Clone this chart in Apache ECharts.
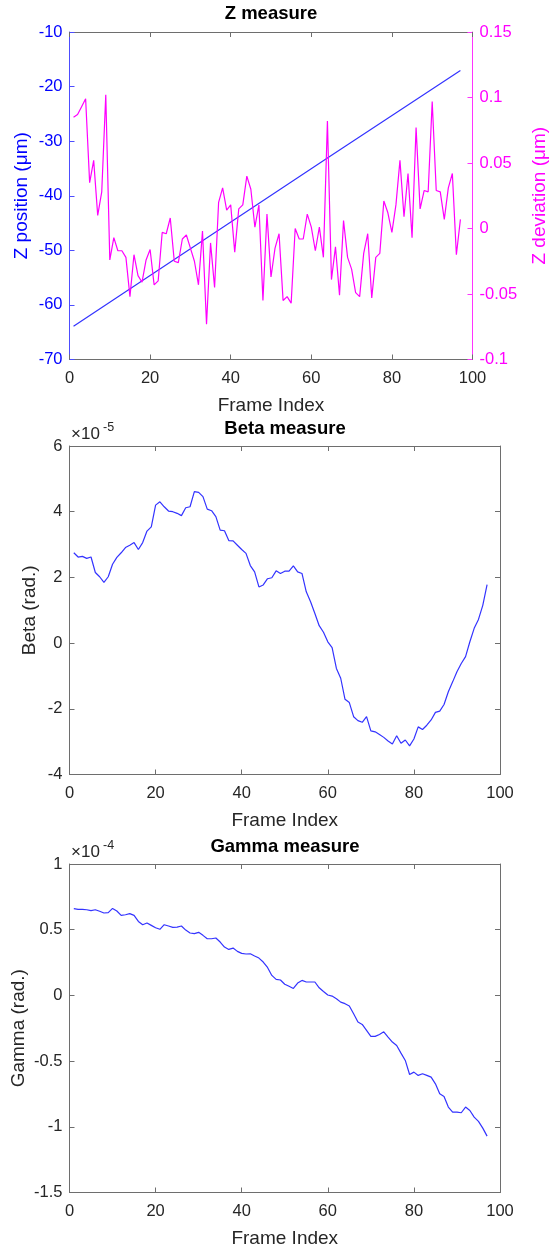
<!DOCTYPE html>
<html>
<head>
<meta charset="utf-8">
<script src="https://cdn.jsdelivr.net/npm/echarts@6/dist/echarts.min.js"></script>
<style>
  html, body { margin: 0; padding: 0; background: #fff; }
  #main { width: 552px; height: 1253px; }
</style>
</head>
<body>
<div id="main"></div>
<script>
// frame index (x) for all three measures
var frames = [1,2,3,4,5,6,7,8,9,10,11,12,13,14,15,16,17,18,19,20,
  21,22,23,24,25,26,27,28,29,30,31,32,33,34,35,36,37,38,39,40,
  41,42,43,44,45,46,47,48,49,50,51,52,53,54,55,56,57,58,59,60,
  61,62,63,64,65,66,67,68,69,70,71,72,73,74,75,76,77,78,79,80,
  81,82,83,84,85,86,87,88,89,90,91,92,93,94,95,96,97];

// Z position (um) - straight ramp, read at ends and middle
var zPosFrames = [1, 64, 97];
var zPos = [-63.9, -33.1, -17.05];

// Z deviation (um)
var zDev = [0.085,0.087,0.093,0.099,0.035,0.052,0.010,0.028,0.102,-0.024,
  -0.007,-0.017,-0.017,-0.022,-0.052,-0.020,-0.036,-0.041,-0.024,-0.016,
  -0.043,-0.040,-0.003,-0.004,0.008,-0.025,-0.026,-0.008,-0.005,-0.015,
  -0.025,-0.043,-0.002,-0.073,-0.011,-0.045,0.020,0.031,0.014,0.018,
  -0.018,0.015,0.018,0.040,0.030,0.001,0.018,-0.055,0.011,-0.037,
  -0.015,-0.004,-0.055,-0.052,-0.057,0.000,-0.008,-0.008,0.011,0.001,
  -0.017,0.001,-0.022,0.082,-0.039,-0.014,-0.051,0.006,-0.022,-0.031,
  -0.049,-0.052,-0.019,-0.004,-0.053,-0.022,-0.019,0.021,0.012,-0.003,
  0.018,0.052,0.009,0.042,-0.007,0.077,0.015,0.029,0.028,0.097,
  0.029,0.028,0.007,0.031,0.042,-0.020,0.007];

// Beta (x 1e-5 rad)
var beta = [2.75,2.62,2.64,2.58,2.62,2.15,2.02,1.85,2.02,2.40,
  2.61,2.75,2.91,2.98,3.06,2.85,3.06,3.41,3.54,4.20,
  4.30,4.15,4.02,4.00,3.95,3.88,4.12,4.15,4.61,4.59,
  4.46,4.08,4.03,3.85,3.44,3.42,3.12,3.11,2.98,2.85,
  2.73,2.36,2.17,1.71,1.77,1.96,1.99,2.20,2.12,2.19,
  2.19,2.35,2.17,2.12,1.56,1.26,0.90,0.53,0.33,0.04,
  -0.14,-0.77,-1.07,-1.71,-1.81,-2.24,-2.36,-2.41,-2.24,-2.67,
  -2.70,-2.78,-2.87,-2.98,-3.07,-2.82,-3.05,-2.95,-3.13,-2.92,
  -2.55,-2.63,-2.50,-2.34,-2.11,-2.07,-1.87,-1.48,-1.18,-0.87,
  -0.62,-0.41,0.04,0.45,0.72,1.15,1.78];

// Gamma (x 1e-4 rad)
var gamma = [0.660,0.655,0.655,0.652,0.645,0.652,0.640,0.627,0.630,0.662,
  0.642,0.609,0.614,0.622,0.609,0.563,0.538,0.551,0.533,0.515,
  0.503,0.538,0.528,0.518,0.520,0.528,0.497,0.475,0.470,0.480,
  0.457,0.431,0.431,0.437,0.406,0.368,0.350,0.360,0.335,0.320,
  0.315,0.317,0.300,0.284,0.254,0.213,0.152,0.122,0.117,0.085,
  0.069,0.053,0.094,0.114,0.102,0.102,0.102,0.058,0.030,0.003,
  -0.005,-0.025,-0.051,-0.063,-0.081,-0.140,-0.203,-0.221,-0.266,-0.312,
  -0.312,-0.297,-0.277,-0.317,-0.355,-0.381,-0.439,-0.495,-0.602,-0.584,
  -0.609,-0.596,-0.609,-0.622,-0.673,-0.749,-0.769,-0.850,-0.888,-0.888,
  -0.893,-0.850,-0.876,-0.926,-0.959,-1.010,-1.071];

var FONT = 'Liberation Sans';
var AX = '#262626';
var BOX = '#6e6e6e';
var BLUE = '#0000ff';
var MAG = '#ff00ff';

function pairs(xs, ys) {
  var out = [];
  for (var i = 0; i < ys.length; i++) out.push([xs[i], ys[i]]);
  return out;
}

function xAx(grid, pos, showLabel) {
  return {
    type: 'value', gridIndex: grid, position: pos,
    min: 0, max: 100, interval: 20,
    name: showLabel ? 'Frame Index' : '',
    nameLocation: 'middle', nameGap: 37, nameMoveOverlap: false,
    nameTextStyle: { fontFamily: FONT, fontSize: 19, color: AX },
    axisLine: { show: true, onZero: false, lineStyle: { color: BOX, width: 1 } },
    axisTick: { show: true, inside: true, length: 5, lineStyle: { color: BOX } },
    axisLabel: { show: showLabel, margin: 10, fontFamily: FONT, fontSize: 16.5, color: AX },
    splitLine: { show: false }
  };
}

function yAx(grid, pos, min, max, step, o) {
  o = o || {};
  return {
    type: 'value', gridIndex: grid, position: pos,
    min: min, max: max, interval: step,
    name: o.name || '', nameLocation: 'middle', nameGap: o.gap || 30,
    nameMoveOverlap: false,
    nameTextStyle: { fontFamily: FONT, fontSize: 19, color: o.textColor || AX },
    axisLine: { show: true, onZero: false, lineStyle: { color: o.lineColor || BOX, width: 1 } },
    axisTick: { show: o.ticks !== false, inside: true, length: 5, lineStyle: { color: o.lineColor || BOX } },
    axisLabel: { show: !!o.labels, margin: 7, fontFamily: FONT, fontSize: 16.5, color: o.textColor || AX },
    splitLine: { show: false }
  };
}

var chart = echarts.init(document.getElementById('main'), null, { renderer: 'canvas' });

var option = {
  animation: false,
  backgroundColor: '#fff',
  grid: [
    { left: 69.5, right: 79.5, top: 32, height: 327.5, outerBoundsMode: 'none', containLabel: false },
    { left: 69.5, right: 52, top: 446, height: 328.5, outerBoundsMode: 'none', containLabel: false },
    { left: 69.5, right: 52, top: 864, height: 328.5, outerBoundsMode: 'none', containLabel: false }
  ],
  xAxis: [
    xAx(0, 'bottom', true), xAx(0, 'top', false),
    xAx(1, 'bottom', true), xAx(1, 'top', false),
    xAx(2, 'bottom', true), xAx(2, 'top', false)
  ],
  yAxis: [
    yAx(0, 'left', -70, -10, 10, { name: 'Z position (μm)', gap: 38.5, labels: true, textColor: BLUE, lineColor: '#4d4dff' }),
    yAx(0, 'right', -0.1, 0.15, 0.05, { name: 'Z deviation (μm)', gap: 58, labels: true, textColor: MAG, lineColor: '#ff33ff' }),
    yAx(1, 'left', -4, 6, 2, { name: 'Beta (rad.)', gap: 30, labels: true }),
    yAx(1, 'right', -4, 6, 2, {}),
    yAx(2, 'left', -1.5, 1, 0.5, { name: 'Gamma (rad.)', gap: 41, labels: true }),
    yAx(2, 'right', -1.5, 1, 0.5, {})
  ],
  series: [
    { type: 'line', xAxisIndex: 0, yAxisIndex: 0, data: pairs(zPosFrames, zPos),
      showSymbol: false, lineStyle: { color: '#3333ff', width: 1.2 } },
    { type: 'line', xAxisIndex: 0, yAxisIndex: 1, data: pairs(frames, zDev),
      showSymbol: false, lineStyle: { color: MAG, width: 1.2 } },
    { type: 'line', xAxisIndex: 2, yAxisIndex: 2, data: pairs(frames, beta),
      showSymbol: false, lineStyle: { color: '#3333ff', width: 1.2 } },
    { type: 'line', xAxisIndex: 4, yAxisIndex: 4, data: pairs(frames, gamma),
      showSymbol: false, lineStyle: { color: '#3333ff', width: 1.2 } }
  ],
  graphic: [
    { type: 'text', x: 271, y: 14, style: { text: 'Z measure', fontFamily: FONT, fontSize: 18.5, fontWeight: 'bold', fill: '#000', textAlign: 'center', textVerticalAlign: 'middle' } },
    { type: 'text', x: 285, y: 429, style: { text: 'Beta measure', fontFamily: FONT, fontSize: 18.5, fontWeight: 'bold', fill: '#000', textAlign: 'center', textVerticalAlign: 'middle' } },
    { type: 'text', x: 285, y: 847, style: { text: 'Gamma measure', fontFamily: FONT, fontSize: 18.5, fontWeight: 'bold', fill: '#000', textAlign: 'center', textVerticalAlign: 'middle' } },
    { type: 'text', x: 71, y: 434, style: { text: '×10', fontFamily: FONT, fontSize: 17, fill: AX, textAlign: 'left', textVerticalAlign: 'middle' } },
    { type: 'text', x: 103, y: 428, style: { text: '-5', fontFamily: FONT, fontSize: 12.5, fill: AX, textAlign: 'left', textVerticalAlign: 'middle' } },
    { type: 'text', x: 71, y: 852, style: { text: '×10', fontFamily: FONT, fontSize: 17, fill: AX, textAlign: 'left', textVerticalAlign: 'middle' } },
    { type: 'text', x: 103, y: 846, style: { text: '-4', fontFamily: FONT, fontSize: 12.5, fill: AX, textAlign: 'left', textVerticalAlign: 'middle' } }
  ]
};

chart.setOption(option);
</script>
</body>
</html>
